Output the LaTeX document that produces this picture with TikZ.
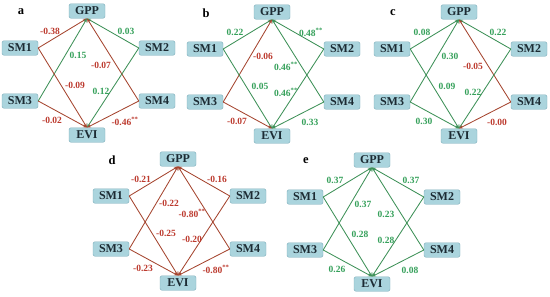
\documentclass[tikz,border=0pt]{standalone}
\usepackage{fontspec}
\setmainfont{Liberation Serif}
\usepackage{xcolor}
\definecolor{boxfill}{HTML}{AAD4DD}
\definecolor{boxline}{HTML}{7FAEBB}
\definecolor{boxtext}{HTML}{1C2B33}
\definecolor{negline}{HTML}{A5452F}
\definecolor{negtext}{HTML}{BC3A2E}
\definecolor{posline}{HTML}{3E9158}
\definecolor{postext}{HTML}{35A05A}
\usetikzlibrary{arrows.meta}

\tikzset{
  var/.style={draw=boxline, fill=boxfill, rounded corners=2pt, minimum width=36pt,
    minimum height=14.5pt, inner sep=1pt, text=boxtext, font=\fontsize{12}{13}\selectfont\bfseries},
  panelname/.style={font=\fontsize{12.5}{13}\selectfont\bfseries},
  link/.style={line width=0.85pt, -{Stealth[length=4pt,width=3.2pt]}},
  val/.style={inner sep=0pt, font=\fontsize{9.5}{10}\selectfont\bfseries}
}

% one panel: #1 prefix, #2/#3 centre of GPP, #4 letter, #5 links
\newcommand{\corrpanel}[5]{%
  \begin{scope}[shift={(#2,#3)}]
    \node[panelname] (#1tag) at (-66,1) {#4};
    \node[var] (#1GPP) at (0,0) {GPP};
    \node[var] (#1SM1) at (-67,37) {SM1};
    \node[var] (#1SM2) at (70,37) {SM2};
    \node[var] (#1SM3) at (-67,90) {SM3};
    \node[var] (#1SM4) at (70,90) {SM4};
    \node[var] (#1EVI) at (0,124) {EVI};
    \foreach \s/\t/\c/\v/\lx/\ly in {#5} {
      \draw[link, draw=\c line] (#1\s) -- (#1\t);
      \node[val, text=\c text] at (\lx,\ly) {\v};
    }
  \end{scope}}

\begin{document}
\begin{tikzpicture}[x=1pt,y=-1pt]
  \useasboundingbox (0,0) rectangle (550,297);
  % a
  \corrpanel{a}{87}{11}{a}{
    SM1.east/GPP.south/neg/-0.38/-37/20, SM2.west/GPP.south/pos/0.03/39/20,
    SM3.east/GPP.south/pos/0.15/-9/44, SM4.west/GPP.south/neg/-0.07/14/54,
    SM1.east/EVI.north/neg/-0.09/-12/74, SM2.west/EVI.north/pos/0.12/14/80,
    SM3.east/EVI.north/neg/-0.02/-35/109, SM4.west/EVI.north/neg/-0.46\textsuperscript{**}/38/110}
  % b
  \corrpanel{b}{272}{12}{b}{
    SM1.east/GPP.south/pos/0.22/-37/20, SM2.west/GPP.south/pos/0.48\textsuperscript{**}/39/20,
    SM3.east/GPP.south/neg/-0.06/-9/44, SM4.west/GPP.south/pos/0.46\textsuperscript{**}/14/54,
    SM1.east/EVI.north/pos/0.05/-12/74, SM2.west/EVI.north/pos/0.46\textsuperscript{**}/14/80,
    SM3.east/EVI.north/neg/-0.07/-35/109, SM4.west/EVI.north/pos/0.33/38/110}
  % c
  \corrpanel{c}{459}{12}{c}{
    SM1.east/GPP.south/pos/0.08/-37/20, SM2.west/GPP.south/pos/0.22/39/20,
    SM3.east/GPP.south/pos/0.30/-9/44, SM4.west/GPP.south/neg/-0.05/14/54,
    SM1.east/EVI.north/pos/0.09/-12/74, SM2.west/EVI.north/pos/0.22/14/80,
    SM3.east/EVI.north/pos/0.30/-35/109, SM4.west/EVI.north/neg/-0.00/38/110}
  % d
  \corrpanel{d}{178}{159}{d}{
    SM1.east/GPP.south/neg/-0.21/-37/20, SM2.west/GPP.south/neg/-0.16/39/20,
    SM3.east/GPP.south/neg/-0.22/-9/44, SM4.west/GPP.south/neg/-0.80\textsuperscript{**}/14/54,
    SM1.east/EVI.north/neg/-0.25/-12/74, SM2.west/EVI.north/neg/-0.20/14/80,
    SM3.east/EVI.north/neg/-0.23/-35/109, SM4.west/EVI.north/neg/-0.80\textsuperscript{**}/38/110}
  % e
  \corrpanel{e}{372}{160}{e}{
    SM1.east/GPP.south/pos/0.37/-37/20, SM2.west/GPP.south/pos/0.37/39/20,
    SM3.east/GPP.south/pos/0.37/-9/44, SM4.west/GPP.south/pos/0.23/14/54,
    SM1.east/EVI.north/pos/0.28/-12/74, SM2.west/EVI.north/pos/0.28/14/80,
    SM3.east/EVI.north/pos/0.26/-35/109, SM4.west/EVI.north/pos/0.08/38/110}
\end{tikzpicture}
\end{document}
